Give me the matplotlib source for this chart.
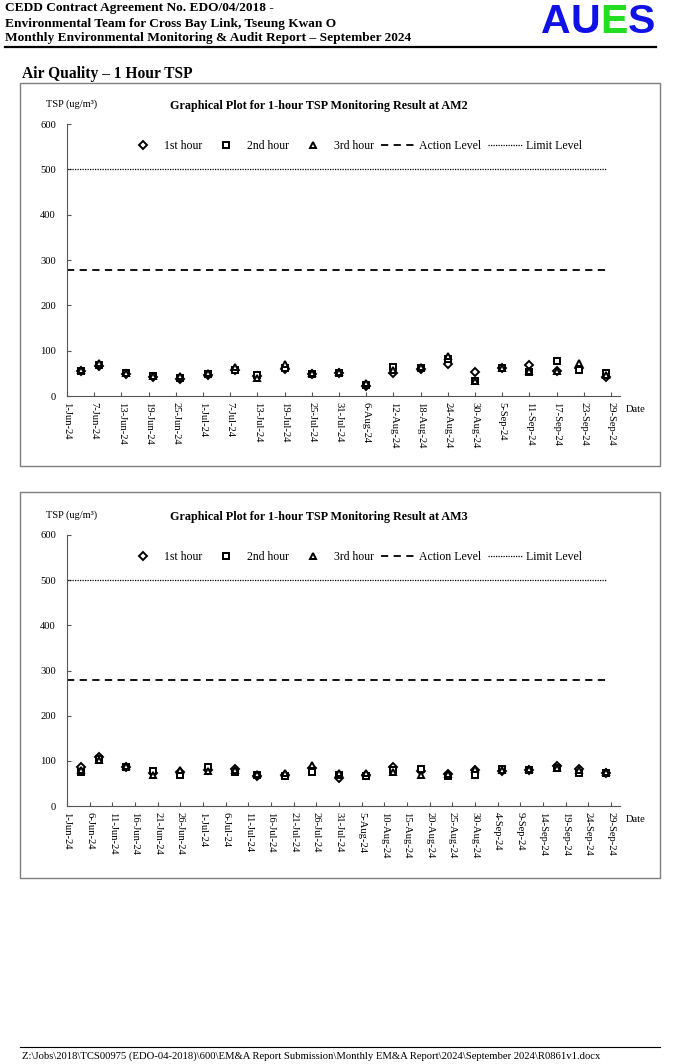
import matplotlib
matplotlib.use("Agg")
import matplotlib.pyplot as plt
import matplotlib.dates as mdates
from matplotlib.lines import Line2D
from matplotlib.patches import Rectangle
import pandas as pd

plt.rcParams['font.family'] = ['Liberation Serif', 'DejaVu Serif']

# ---------------- data ----------------
sample_dates = ["2024-06-04", "2024-06-08", "2024-06-14", "2024-06-20", "2024-06-26",
                "2024-07-02", "2024-07-08", "2024-07-13", "2024-07-19", "2024-07-25",
                "2024-07-31", "2024-08-06", "2024-08-12", "2024-08-18", "2024-08-24",
                "2024-08-30", "2024-09-05", "2024-09-11", "2024-09-17", "2024-09-22",
                "2024-09-28"]

am2_hour1 = [55, 66, 48, 41, 37, 47, 57, 45, 60, 48, 50, 22, 50, 60, 71, 54, 62, 68, 55, 62, 43]
am2_hour2 = [55, 68, 50, 45, 40, 49, 58, 47, 62, 48, 51, 25, 64, 62, 82, 32, 62, 52, 77, 58, 50]
am2_hour3 = [57, 72, 50, 44, 45, 51, 65, 40, 70, 50, 53, 28, 57, 63, 88, 34, 61, 56, 55, 72, 47]

am3_hour1 = [86, 108, 87, 72, 76, 80, 83, 66, 68, 84, 62, 68, 86, 78, 70, 80, 78, 79, 88, 82, 72]
am3_hour2 = [76, 104, 86, 78, 68, 86, 75, 68, 66, 76, 68, 66, 80, 83, 66, 68, 82, 80, 84, 74, 74]
am3_hour3 = [79, 102, 88, 69, 79, 78, 80, 70, 72, 91, 72, 74, 75, 69, 70, 83, 80, 81, 85, 80, 75]

level_dates = ["2024-06-01", "2024-09-28"]
action_level = [278, 278]
limit_level = [500, 500]

series_labels = ["1st hour", "2nd hour", "3rd hour", "Action Level", "Limit Level"]
y_ticks = [0, 100, 200, 300, 400, 500, 600]
x_start, x_end = "2024-06-01", "2024-10-01"

# ---------------- figure ----------------
W, H = 676, 1064
fig = plt.figure(figsize=(W / 100, H / 100), dpi=100)


def fx(px):
    return px / W


def fy(py):
    return 1 - py / H


# header
hdr = ["CEDD Contract Agreement No. EDO/04/2018 -",
       "Environmental Team for Cross Bay Link, Tseung Kwan O",
       "Monthly Environmental Monitoring & Audit Report \u2013 September 2024"]
for i, t in enumerate(hdr):
    fig.text(fx(5), fy(8.5 + 15 * i), t, fontsize=9.6, fontweight='bold', va='center', ha='left')

logo_x = 541
for ch, col in zip("AUES", ["#1010e8", "#1010e8", "#22dd22", "#1010e8"]):
    t = fig.text(fx(logo_x), fy(22), ch, fontsize=29.5, fontweight='bold', color=col,
                 family='Liberation Sans', va='center', ha='left')
    fig.canvas.draw()
    bb = t.get_window_extent()
    logo_x += bb.width
fig.add_artist(Line2D([fx(5), fx(656)], [fy(47), fy(47)], color='black', lw=1.6))

fig.text(fx(22), fy(74), "Air Quality \u2013 1 Hour TSP", fontsize=11.2, fontweight='bold',
         va='center', ha='left')

# footer
fig.add_artist(Line2D([fx(20), fx(660)], [fy(1047), fy(1047)], color='black', lw=0.8))
fig.text(fx(22), fy(1056),
         "Z:\\Jobs\\2018\\TCS00975 (EDO-04-2018)\\600\\EM&A Report Submission\\Monthly EM&A Report\\2024\\September 2024\\R0861v1.docx",
         fontsize=7.7, va='center', ha='left')

dates = pd.to_datetime(sample_dates)
ldates = pd.to_datetime(level_dates)


def draw_chart(box_top, box_bot, ax_top, ax_bot, title, h1, h2, h3, tick_step):
    fig.add_artist(Rectangle((fx(20), fy(box_bot)), fx(660) - fx(20), fy(box_top) - fy(box_bot),
                             fill=False, edgecolor='#7f7f7f', lw=1.0))
    ax = fig.add_axes([fx(67), fy(ax_bot), fx(620) - fx(67), fy(ax_top) - fy(ax_bot)])
    mk = dict(linestyle='none', markerfacecolor='white', markeredgecolor='black',
              markersize=5, markeredgewidth=1.4)
    ax.plot(dates, h1, marker='D', label=series_labels[0], **{**mk, 'markersize': 4.2})
    ax.plot(dates, h2, marker='s', label=series_labels[1], **mk)
    ax.plot(dates, h3, marker='^', label=series_labels[2], **mk)
    ax.plot(ldates, action_level, color='black', lw=1.3, linestyle=(0, (4, 3)), label=series_labels[3])
    ax.plot(ldates, limit_level, color='black', lw=0.9, linestyle=(0, (1, 1)), label=series_labels[4])

    ax.set_ylim(0, 600)
    ax.set_yticks(y_ticks)
    ax.set_xlim(pd.Timestamp(x_start), pd.Timestamp(x_end))
    ticks = pd.date_range("2024-06-01", "2024-09-29", freq=f"{tick_step}D")
    ax.set_xticks(ticks)
    ax.xaxis.set_major_formatter(mdates.DateFormatter('%-d-%b-%y'))
    for s in ['top', 'right']:
        ax.spines[s].set_visible(False)
    for s in ['left', 'bottom']:
        ax.spines[s].set_color('#555555')
        ax.spines[s].set_linewidth(0.8)
    ax.tick_params(axis='x', direction='in', length=3, labelsize=7.6, rotation=-90, pad=4,
                   color='#555555')
    ax.tick_params(axis='y', direction='in', length=3, labelsize=7.6, pad=8, color='#555555')
    for lab in ax.get_xticklabels():
        lab.set_va('top')
        lab.set_ha('center')

    ax.legend(ncol=5, frameon=False, fontsize=8.5, loc='center',
              bbox_to_anchor=((354 - 67) / (620 - 67), (ax_bot - (ax_top + 22)) / (ax_bot - ax_top)),
              handlelength=2.9, columnspacing=0.55, handletextpad=0.35)

    fig.text(fx(319), fy(ax_top - 18), title, fontsize=8.7, fontweight='bold', ha='center', va='center')
    fig.text(fx(46), fy(ax_top - 20), "TSP (ug/m\u00b3)", fontsize=7.5, ha='left', va='center')
    fig.text(fx(626), fy(ax_bot + 13), "Date", fontsize=7.6, ha='left', va='center')
    return ax


draw_chart(83, 466, 124, 396, "Graphical Plot for 1-hour TSP Monitoring Result at AM2",
           am2_hour1, am2_hour2, am2_hour3, 6)
draw_chart(492, 878, 535, 806, "Graphical Plot for 1-hour TSP Monitoring Result at AM3",
           am3_hour1, am3_hour2, am3_hour3, 5)

fig.savefig("out.png", dpi=100)
